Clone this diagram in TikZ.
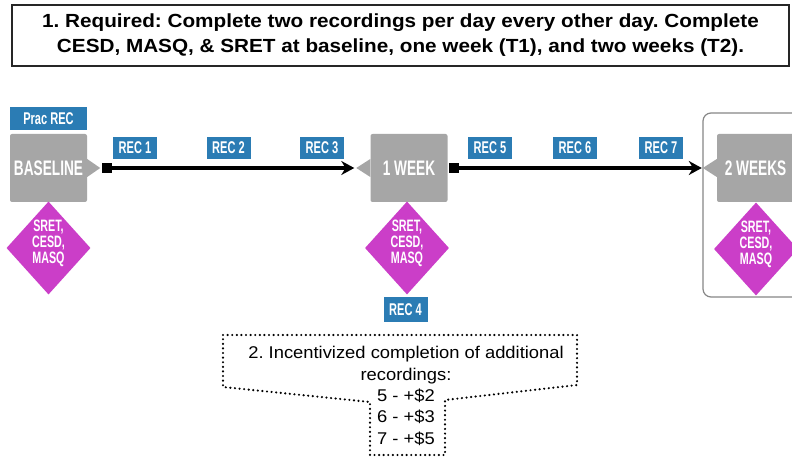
\documentclass[tikz,border=0pt]{standalone}
\usepackage{fontspec}
\setmainfont{Liberation Sans}
\newfontfamily\condfont[FakeStretch=0.65]{Liberation Sans}
\newfontfamily\titlefont[FakeStretch=1.09]{Liberation Sans}
\newfontfamily\callfont[FakeStretch=1.08]{Liberation Sans}
\usetikzlibrary{shapes.geometric,arrows.meta}
\definecolor{recblue}{RGB}{43,124,180}
\definecolor{boxgray}{RGB}{166,166,166}
\definecolor{diamag}{RGB}{203,62,200}
\definecolor{framegray}{RGB}{135,135,135}
\frenchspacing
\begin{document}
\begin{tikzpicture}[x=1pt,y=-1pt,
  recbox/.style={fill=recblue, text=white, font=\condfont\bfseries\fontsize{17}{17}\selectfont, minimum width=44pt, minimum height=22pt, inner sep=0pt},
  stagebox/.style={fill=boxgray, rounded corners=2pt, text=white, font=\condfont\bfseries\fontsize{21}{21}\selectfont, minimum width=77pt, minimum height=68pt, inner sep=0pt},
  measure/.style={diamond, fill=diamag, minimum width=84pt, minimum height=93pt, inner sep=0pt},
  measuretext/.style={text=white, font=\condfont\bfseries\fontsize{16.5}{16}\selectfont, align=center, inner sep=0pt},
  conn/.style={line width=3.2pt, {Square[length=10pt,width=10pt]}-{Stealth[length=13pt,width=14pt]}},
  pointer/.style={fill=boxgray},
  dotline/.style={line width=2.4pt, line cap=round, dash pattern=on 0pt off 4.6pt},
  titlebox/.style={draw=black!85, line width=1.3pt, minimum width=777pt, minimum height=61pt, inner sep=0pt, align=center, font=\titlefont\bfseries\fontsize{19}{25}\selectfont},
  calltext/.style={align=center, font=\callfont\fontsize{17}{21.3}\selectfont, inner sep=0pt}
]
\clip (0,0) rectangle (792,462);
\fill[white] (0,0) rectangle (792,462);

% title
\node[titlebox] (title) at (400.5,35.5) {1. Required: Complete two recordings per day every other day. Complete\\CESD, MASQ, \& SRET at baseline, one week (T1), and two weeks (T2).};

% outer frame around 2 weeks
\draw[framegray, line width=1.2pt, rounded corners=8pt] (703,113) rectangle (812,297);

% stage boxes
\node[recbox, minimum width=77pt, minimum height=23pt] (prac) at (48.5,118.5) {Prac REC};
\node[stagebox] (base) at (48.5,168) {BASELINE};
\node[stagebox] (week1) at (409,168) {1 WEEK};
\node[stagebox] (week2) at (755.5,168) {2 WEEKS};

% pointers
\fill[pointer] ([yshift=-9pt]base.east) -- ([xshift=13pt]base.east) -- ([yshift=9pt]base.east) -- cycle;
\fill[pointer] ([yshift=-9pt]week1.west) -- ([xshift=-14pt]week1.west) -- ([yshift=9pt]week1.west) -- cycle;
\fill[pointer] ([yshift=-9pt]week2.west) -- ([xshift=-14pt]week2.west) -- ([yshift=9pt]week2.west) -- cycle;

% diamonds
\node[measure] (d0) at (48.5,248) {};
\node[measure] (d1) at (407,248) {};
\node[measure] (d2) at (756,249) {};
\node[measuretext] (t0) at ([yshift=5pt]d0.center) {SRET,\\CESD,\\MASQ};
\node[measuretext] (t1) at ([yshift=5pt]d1.center) {SRET,\\CESD,\\MASQ};
\node[measuretext] (t2) at ([yshift=5pt]d2.center) {SRET,\\CESD,\\MASQ};

% connectors
\draw[conn] ([xshift=15pt]base.east) -- ([xshift=-16pt]week1.west);
\draw[conn] ([xshift=1pt]week1.east) -- ([xshift=-15pt]week2.west);

% recording labels
\node[recbox] (rec1) at (135,148) {REC 1};
\node[recbox] (rec2) at (228.5,148) {REC 2};
\node[recbox] (rec3) at (322,148) {REC 3};
\node[recbox] (rec5) at (490,148) {REC 5};
\node[recbox] (rec6) at (575,148) {REC 6};
\node[recbox] (rec7) at (661,148) {REC 7};
\node[recbox, minimum height=25pt] (rec4) at (405.5,309.5) {REC 4};

% callout
\draw[dotline] (223,335) -- (577,335) -- (577,385) -- (445,400) -- (445,455) -- (370,455) -- (370,402) -- (223,387) -- cycle;
\node[calltext] (incent) at (406,396) {2. Incentivized completion of additional\\recordings:\\5 - +\$2\\6 - +\$3\\7 - +\$5};
\end{tikzpicture}
\end{document}
